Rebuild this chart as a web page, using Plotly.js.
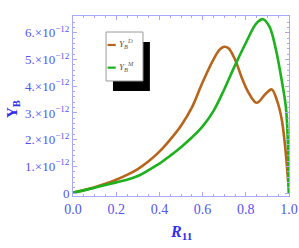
<!DOCTYPE html>
<html>
<head>
<meta charset="utf-8">
<script src="https://cdn.plot.ly/plotly-3.0.1.min.js"></script>
<style>html,body{margin:0;padding:0;background:#fff;}#chart{width:299px;height:248px;}</style>
</head>
<body>
<div id="chart"></div>
<script>
// values in units of 1e-12
const xD = [0.00, 0.05, 0.10, 0.15, 0.20, 0.25, 0.30, 0.35, 0.40, 0.45, 0.50, 0.55, 0.60, 0.65, 0.68, 0.70, 0.72, 0.75, 0.78, 0.81, 0.85, 0.89, 0.92, 0.945, 0.967, 0.985, 1.0];
const yD = [0.02, 0.11, 0.22, 0.35, 0.50, 0.68, 0.90, 1.19, 1.55, 2.00, 2.52, 3.20, 4.15, 5.00, 5.38, 5.48, 5.42, 5.00, 4.35, 3.80, 3.38, 3.70, 3.88, 3.45, 2.73, 1.50, 0.0];
const xM = [0.00, 0.05, 0.10, 0.15, 0.20, 0.25, 0.30, 0.35, 0.40, 0.45, 0.50, 0.55, 0.60, 0.65, 0.70, 0.75, 0.80, 0.85, 0.88, 0.91, 0.94, 0.966, 0.986, 0.996, 1.0];
const yM = [0.02, 0.10, 0.20, 0.30, 0.40, 0.50, 0.64, 0.86, 1.10, 1.40, 1.72, 2.08, 2.50, 3.07, 3.88, 4.78, 5.62, 6.36, 6.51, 6.22, 5.35, 4.23, 3.18, 1.60, 0.0];
const yTickVals = [0, 1, 2, 3, 4, 5, 6];
const yTickText = ['0', '1.×10<sup>−12</sup>', '2.×10<sup>−12</sup>', '3.×10<sup>−12</sup>', '4.×10<sup>−12</sup>', '5.×10<sup>−12</sup>', '6.×10<sup>−12</sup>'];
const xTickVals = [0, 0.2, 0.4, 0.6, 0.8, 1.0];
const xTickText = ['0.0', '0.2', '0.4', '0.6', '0.8', '1.0'];
const names = ['Y<sub>B</sub><sup>D</sup>', 'Y<sub>B</sub><sup>M</sup>'];

const colD = '#b8651b';
const colM = '#1db11d';
const tickCol = '#5353f5';
const axCol = '#a8a8ff';
const serif = 'Liberation Serif, Times New Roman, serif';

const traces = [
  {x: xD, y: yD, mode: 'lines', line: {color: colD, width: 2.6, shape: 'spline', smoothing: 1.0}, name: names[0], showlegend: false},
  {x: xM, y: yM, mode: 'lines', line: {color: colM, width: 2.6, shape: 'spline', smoothing: 1.0}, name: names[1], showlegend: false}
];

const axisCommon = {
  showgrid: false, zeroline: false, showline: true, linecolor: axCol, linewidth: 1,
  mirror: 'allticks', ticks: 'inside', ticklen: 4, tickcolor: axCol,
  tickfont: {family: serif, size: 14, color: tickCol}
};

const layout = {
  width: 299, height: 248,
  margin: {l: 73, r: 10, t: 16, b: 52},
  paper_bgcolor: '#fff', plot_bgcolor: '#fff',
  showlegend: false,
  xaxis: Object.assign({}, axisCommon, {
    range: [0, 1], tickvals: xTickVals, ticktext: xTickText,
    minor: {dtick: 0.05, ticks: 'inside', ticklen: 2, tickcolor: axCol, showgrid: false}
  }),
  yaxis: Object.assign({}, axisCommon, {
    range: [-0.11, 6.63], tickvals: yTickVals, ticktext: yTickText,
    tickfont: {family: serif, size: 13, color: tickCol},
    minor: {dtick: 0.2, ticks: 'inside', ticklen: 2, tickcolor: axCol, showgrid: false}
  }),
  shapes: [
    {type: 'rect', xref: 'paper', yref: 'paper', x0: 0.185, x1: 0.356, y0: 0.583, y1: 0.856,
      fillcolor: '#000', line: {width: 0}, layer: 'above'},
    {type: 'rect', xref: 'paper', yref: 'paper', x0: 0.153, x1: 0.324, y0: 0.639, y1: 0.911,
      fillcolor: '#fff', line: {color: '#9a9a9a', width: 1}, layer: 'above'},
    {type: 'line', xref: 'paper', yref: 'paper', x0: 0.160, x1: 0.198, y0: 0.839, y1: 0.839,
      line: {color: colD, width: 2.2}, layer: 'above'},
    {type: 'line', xref: 'paper', yref: 'paper', x0: 0.160, x1: 0.198, y0: 0.713, y1: 0.713,
      line: {color: colM, width: 2.2}, layer: 'above'}
  ],
  annotations: [
    {xref: 'paper', yref: 'paper', x: 0.205, y: 0.845, xanchor: 'left', yanchor: 'middle', showarrow: false,
      text: '<i>' + names[0] + '</i>', font: {family: serif, size: 9, color: '#555'}},
    {xref: 'paper', yref: 'paper', x: 0.205, y: 0.719, xanchor: 'left', yanchor: 'middle', showarrow: false,
      text: '<i>' + names[1] + '</i>', font: {family: serif, size: 9, color: '#555'}},
    {xref: 'paper', yref: 'paper', x: 0.5, y: -0.2, xanchor: 'center', yanchor: 'middle', showarrow: false,
      text: '<b><i>R</i></b><sub><b>11</b></sub>', font: {family: serif, size: 16, color: '#3030f0'}},
    {xref: 'paper', yref: 'paper', x: -0.28, y: 0.48, xanchor: 'center', yanchor: 'middle', showarrow: false,
      textangle: -90, text: '<b>Y</b><sub><b>B</b></sub>', font: {family: serif, size: 15, color: '#3030f0'}}
  ]
};

Plotly.newPlot('chart', traces, layout, {staticPlot: true, displayModeBar: false});
</script>
</body>
</html>
